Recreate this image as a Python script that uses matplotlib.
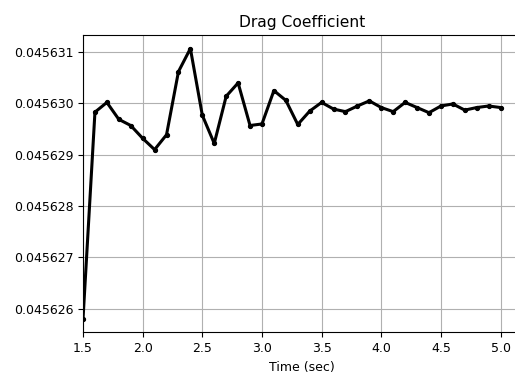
import matplotlib
matplotlib.use("Agg")
import matplotlib.pyplot as plt

# time samples (sec) and drag coefficient
time_sec = [1.5, 1.6, 1.7, 1.8, 1.9, 2.0, 2.1, 2.2, 2.3, 2.4,
            2.5, 2.6, 2.7, 2.8, 2.9, 3.0, 3.1, 3.2, 3.3, 3.4,
            3.5, 3.6, 3.7, 3.8, 3.9, 4.0, 4.1, 4.2, 4.3, 4.4,
            4.5, 4.6, 4.7, 4.8, 4.9, 5.0]
drag_coef = [0.04562580, 0.04562983, 0.04563002, 0.04562969, 0.04562957,
             0.04562932, 0.04562910, 0.04562939, 0.04563062, 0.04563107,
             0.04562977, 0.04562922, 0.04563014, 0.04563040, 0.04562957,
             0.04562960, 0.04563025, 0.04563006, 0.04562959, 0.04562985,
             0.04563002, 0.04562989, 0.04562984, 0.04562995, 0.04563005,
             0.04562992, 0.04562984, 0.04563002, 0.04562992, 0.04562982,
             0.04562995, 0.04562999, 0.04562987, 0.04562992, 0.04562995,
             0.04562992]

fig = plt.figure(figsize=(5.15, 3.76), dpi=100)
ax = fig.add_axes([0.1612, 0.1157, 0.8513, 0.7912])

ax.plot(time_sec, drag_coef, color='black', linewidth=2.2,
        marker='o', markersize=2.8)

ax.set_xlim(1.5, 5.175)
ax.set_title("Drag Coefficient", fontsize=11.2)
ax.set_xlabel("Time (sec)", fontsize=9)
ax.ticklabel_format(axis='y', useOffset=False, style='plain')
ax.tick_params(labelsize=9)
ax.grid(True)

fig.savefig("out.png", dpi=100)
